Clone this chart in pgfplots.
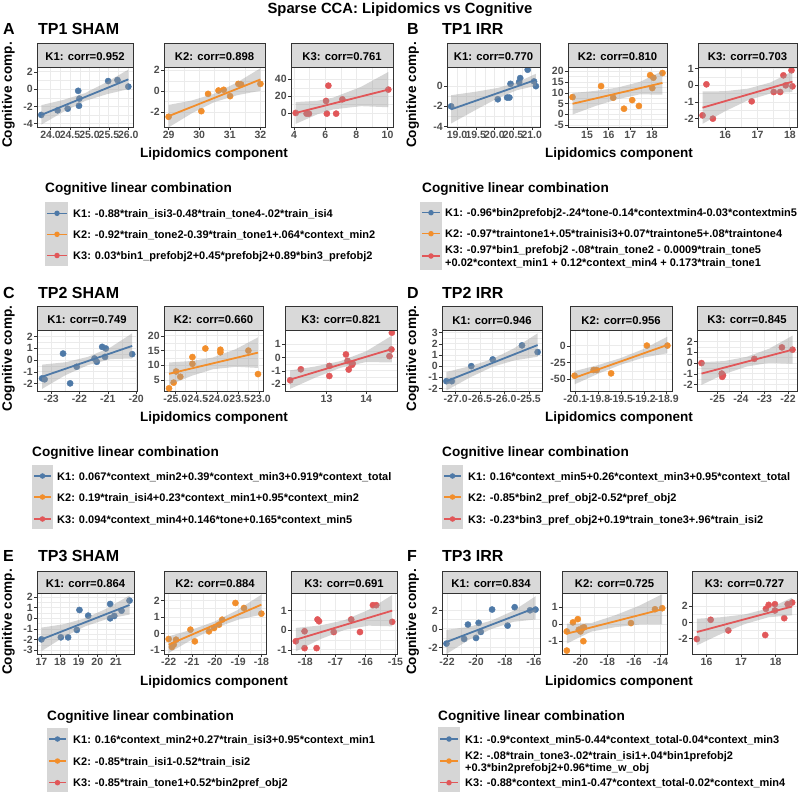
\documentclass[border=0pt]{standalone}
\usepackage{fontspec}
\setmainfont{Liberation Sans}
\usepackage{pgfplots}
\pgfplotsset{compat=1.18}
\definecolor{cA}{HTML}{4E79A7}
\definecolor{cB}{HTML}{F28E2B}
\definecolor{cC}{HTML}{E15759}
\definecolor{stripbg}{HTML}{D9D9D9}
\definecolor{keybg}{HTML}{D6D6D6}
\definecolor{frame}{HTML}{333333}
\definecolor{gridc}{HTML}{EBEBEB}
\definecolor{ticktext}{HTML}{4D4D4D}
\pgfplotsset{
 fac/.style={scale only axis, anchor=north west, clip mode=individual,
  axis line style={draw=frame, line width=0.5pt},
  grid=both, major grid style={draw=gridc, line width=0.9pt}, minor grid style={draw=gridc, line width=0.45pt},
  minor tick num=1, minor tick length=0pt, major tick length=2.7pt, tick align=outside, tick pos=left,
  tick style={draw=frame, line width=0.5pt},
  ticklabel style={font=\bfseries\fontsize{10.5}{11}\selectfont, text=ticktext},
  xticklabel style={inner sep=1.5pt}, yticklabel style={inner sep=1.5pt},
  scaled ticks=false},
 pts/.style={only marks, mark=*, mark size=3.1pt, color=#1},
 band/.style={fill=black!40, fill opacity=0.4, draw=none},
 fit/.style={color=#1, line width=1.8pt, no marks},
 keyax/.style={hide axis, scale only axis, anchor=north west, xmin=0, xmax=22, clip=false},
 key/.style={color=#1, line width=1.4pt, mark=*, mark size=2pt, mark indices={2}},
}
\newcommand{\strip}[2]{%
 \draw[fill=stripbg, draw=frame, line width=0.5pt] (rel axis cs:0,1) rectangle ([yshift=#2]rel axis cs:1,1);
 \node[font=\bfseries\fontsize{11.3}{12}\selectfont, inner sep=0, anchor=base] at ([yshift=6pt]rel axis cs:0.5,1) {#1};}
\newcommand{\ltitle}[2]{\node[anchor=base west, inner sep=0, font=\bfseries\fontsize{13.6}{15}\selectfont] at (#1pt,-#2pt) {Cognitive linear combination};}
\newcommand{\lentry}[3]{\node[anchor=base west, inner sep=0, font=\bfseries\fontsize{11}{12}\selectfont] at (#1pt,-#2pt) {#3};}
\newcommand{\tagtxt}[3]{\node[anchor=base west, inner sep=0, font=\bfseries\fontsize{16}{18}\selectfont] at (#1pt,-#2pt) {#3};}
\newcommand{\ytitle}[2]{\node[rotate=90, anchor=base, inner sep=0, font=\bfseries\fontsize{13.6}{15}\selectfont] at (#1pt,-#2pt) {Cognitive comp.};}
\newcommand{\xtitle}[2]{\node[anchor=base, inner sep=0, font=\bfseries\fontsize{13.5}{15}\selectfont] at (#1pt,-#2pt) {Lipidomics component};}
\begin{document}
\begin{tikzpicture}
\useasboundingbox (0,0) rectangle (800pt,-794pt);
\node[anchor=base, inner sep=0, font=\bfseries\fontsize{14.8}{16}\selectfont] at (400pt,-14pt) {Sparse CCA: Lipidomics vs Cognitive};

% ================= ROW 1 =================
\tagtxt{3}{35}{A}\tagtxt{38}{35}{TP1 SHAM}
\tagtxt{407}{35}{B}\tagtxt{442}{35}{TP1 IRR}
\ytitle{12}{95}\ytitle{416}{95}
\xtitle{214}{158}\xtitle{619}{158}

% A K1
\begin{axis}[fac, at={(37pt,-67pt)}, width=96pt, height=60pt, xmin=23.65, xmax=26.12, ymin=-4.38, ymax=2.57,
 xtick={24,24.5,25,25.5,26}, xticklabels={24.0,24.5,25.0,25.5,26.0}, ytick={-4,-2,0,2}, yticklabels={-4,-2,0,2}]
\addplot[pts=cA] coordinates {(23.76,-2.98) (24.18,-2.45) (24.44,-2.26) (24.71,-0.19) (24.74,-1.09) (24.73,-1.92) (25.48,0.94) (25.72,1.06) (26.0,0.30)};
\addplot[band] coordinates {(23.76,-1.85) (24.32,-1.25) (24.88,-0.47) (25.44,0.81) (26.0,2.27) (26.0,0.01) (25.44,-0.59) (24.88,-1.37) (24.32,-2.65) (23.76,-4.11)};
\addplot[fit=cA] coordinates {(23.76,-2.98) (26.0,1.14)};
\strip{K1: corr=0.952}{24pt}
\end{axis}
% A K2
\begin{axis}[fac, at={(164pt,-67pt)}, width=101pt, height=60pt, xmin=28.85, xmax=32.15, ymin=-3.44, ymax=2.32,
 xtick={29,30,31,32}, xticklabels={29,30,31,32}, ytick={-2,0,2}, yticklabels={-2,0,2}]
\addplot[pts=cB] coordinates {(29.0,-2.46) (30.07,-1.92) (30.29,-0.26) (30.63,0.06) (30.8,0.13) (31.01,-0.48) (31.28,0.70) (31.37,0.64) (32.0,0.70)};
\addplot[band] coordinates {(29.0,-1.32) (29.75,-0.90) (30.5,-0.24) (31.25,0.86) (32.0,2.20) (32.0,0.04) (31.25,-0.38) (30.5,-1.04) (29.75,-2.14) (29.0,-3.48)};
\addplot[fit=cB] coordinates {(29.0,-2.4) (32.0,1.12)};
\strip{K2: corr=0.898}{24pt}
\end{axis}
% A K3
\begin{axis}[fac, at={(291pt,-67pt)}, width=102pt, height=60pt, xmin=3.8, xmax=10.35, ymin=-16.7, ymax=54.7,
 xtick={4,6,8,10}, xticklabels={4,6,8,10}, ytick={0,20,40}, yticklabels={0,20,40}]
\addplot[pts=cC] coordinates {(4.1,0) (4.8,-0.8) (4.95,-0.8) (6.05,14.3) (6.2,32.5) (6.1,-0.8) (6.7,-0.8) (7.1,16.2) (10.05,27.8)};
\addplot[band] coordinates {(4.1,13) (5.5,14.5) (6.5,18.2) (8.3,31.1) (10.05,48.8) (10.05,6.8) (8.3,8.1) (6.5,4.2) (5.5,-1.5) (4.1,-13)};
\addplot[fit=cC] coordinates {(4.1,0) (10.05,27.8)};
\strip{K3: corr=0.761}{24pt}
\end{axis}
% B K1
\begin{axis}[fac, at={(447pt,-67pt)}, width=93pt, height=60pt, xmin=18.73, xmax=21.22, ymin=-4.05, ymax=1.9,
 xtick={19,19.5,20,20.5,21}, xticklabels={19.0,19.5,20.0,20.5,21.0}, ytick={-4,-2,0}, yticklabels={-4,-2,0}]
\addplot[pts=cA] coordinates {(18.84,-2.0) (20.09,-1.3) (20.34,-1.13) (20.4,-1.13) (20.43,0.23) (20.66,0.4) (20.69,0.8) (20.89,1.63) (21.06,0.47) (21.11,0.0)};
\addplot[band] coordinates {(18.84,-0.90) (19.5,-0.55) (20.1,-0.17) (20.6,0.36) (21.11,1.23) (21.11,0.03) (20.6,-0.40) (20.1,-1.17) (19.5,-2.35) (18.84,-3.70)};
\addplot[fit=cA] coordinates {(18.84,-2.30) (21.11,0.63)};
\strip{K1: corr=0.770}{24pt}
\end{axis}
% B K2
\begin{axis}[fac, at={(568pt,-67pt)}, width=99pt, height=60pt, xmin=14.12, xmax=18.7, ymin=-5.9, ymax=22,
 xtick={15,16,17,18}, xticklabels={15,16,17,18}, ytick={-5,0,5,10,15,20}, yticklabels={-5,0,5,10,15,20}]
\addplot[pts=cB] coordinates {(14.33,8.0) (15.65,13.1) (16.21,7.7) (16.71,2.6) (17.09,6.6) (17.4,3.9) (17.92,18.2) (18.02,12.2) (18.07,17.0) (18.49,19.2)};
\addplot[band] coordinates {(14.33,9.9) (15.4,10.9) (16.4,12.4) (17.45,15.1) (18.49,20.1) (18.49,9.1) (17.45,9.3) (16.4,7.0) (15.4,3.9) (14.33,-0.1)};
\addplot[fit=cB] coordinates {(14.33,4.9) (18.49,14.6)};
\strip{K2: corr=0.810}{24pt}
\end{axis}
% B K3
\begin{axis}[fac, at={(698pt,-67pt)}, width=99pt, height=60pt, xmin=15.16, xmax=18.22, ymin=-2.5, ymax=1.1,
 xtick={16,17,18}, xticklabels={16,17,18}, ytick={-2,-1,0,1}, yticklabels={-2,-1,0,1}]
\addplot[pts=cC] coordinates {(15.3,-1.8) (15.42,0.06) (15.62,-2.0) (16.82,-0.96) (17.5,-0.4) (17.7,-0.4) (17.8,0.6) (17.87,0.0) (18.05,0.9) (18.08,-0.06)};
\addplot[band] coordinates {(15.3,-0.37) (16.0,-0.35) (16.7,-0.20) (17.4,0.17) (18.08,0.84) (18.08,-0.40) (17.4,-0.49) (16.7,-0.90) (16.0,-1.55) (15.3,-2.31)};
\addplot[fit=cC] coordinates {(15.3,-1.34) (18.08,0.22)};
\strip{K3: corr=0.703}{24pt}
\end{axis}

% legends row 1
\ltitle{45}{192.5}
\fill[keybg] (45pt,-202pt) rectangle (68pt,-266pt);
\begin{axis}[keyax, at={(45pt,-202pt)}, width=23pt, height=64pt, ymin=-266, ymax=-202]
\addplot[key=cA] coordinates {(2,-213.3) (11.5,-213.3) (21,-213.3)};
\addplot[key=cB] coordinates {(2,-234.3) (11.5,-234.3) (21,-234.3)};
\addplot[key=cC] coordinates {(2,-255.5) (11.5,-255.5) (21,-255.5)};
\end{axis}
\lentry{73}{217.3}{K1: -0.88*train\_isi3-0.48*train\_tone4-.02*train\_isi4}
\lentry{73}{238.3}{K2: -0.92*train\_tone2-0.39*train\_tone1+.064*context\_min2}
\lentry{73}{259.5}{K3: 0.03*bin1\_prefobj2+0.45*prefobj2+0.89*bin3\_prefobj2}

\ltitle{422}{192.5}
\fill[keybg] (420pt,-202pt) rectangle (442pt,-270pt);
\begin{axis}[keyax, at={(420pt,-202pt)}, width=22pt, height=68pt, ymin=-270, ymax=-202]
\addplot[key=cA] coordinates {(2,-212.7) (11,-212.7) (20,-212.7)};
\addplot[key=cB] coordinates {(2,-233.7) (11,-233.7) (20,-233.7)};
\addplot[key=cC] coordinates {(2,-256) (11,-256) (20,-256)};
\end{axis}
\lentry{445}{216.7}{K1: -0.96*bin2prefobj2-.24*tone-0.14*contextmin4-0.03*contextmin5}
\lentry{445}{237.7}{K2: -0.97*traintone1+.05*trainisi3+0.07*traintone5+.08*traintone4}
\lentry{445}{254}{K3: -0.97*bin1\_prefobj2 -.08*train\_tone2 - 0.0009*train\_tone5}
\lentry{445}{266}{+0.02*context\_min1 + 0.12*context\_min4 + 0.173*train\_tone1}

% ================= ROW 2 =================
\tagtxt{3}{298.3}{C}\tagtxt{38}{298.3}{TP2 SHAM}
\tagtxt{407}{298.3}{D}\tagtxt{442}{298.3}{TP2 IRR}
\ytitle{12}{358.5}\ytitle{416}{358.5}
\xtitle{214}{421.7}\xtitle{619}{421.7}

% C K1
\begin{axis}[fac, at={(37pt,-330pt)}, width=100pt, height=61pt, xmin=-23.5, xmax=-19.97, ymin=-2.62, ymax=2.56,
 xtick={-23,-22,-21,-20}, xticklabels={-23,-22,-21,-20}, ytick={-2,-1,0,1,2}, yticklabels={-2,-1,0,1,2}]
\addplot[pts=cA] coordinates {(-23.32,-1.55) (-23.23,-1.63) (-22.58,0.56) (-22.33,-1.97) (-22.1,-0.56) (-21.47,0.14) (-21.39,-0.14) (-21.2,1.13) (-21.1,0.28) (-21.07,0.99) (-20.14,0.51)};
\addplot[band] coordinates {(-23.32,-0.38) (-22.5,-0.18) (-21.7,0.28) (-20.9,1.09) (-20.14,2.28) (-20.14,0.14) (-20.9,0.09) (-21.7,-0.42) (-22.5,-1.28) (-23.32,-2.44)};
\addplot[fit=cA] coordinates {(-23.32,-1.41) (-20.14,1.21)};
\strip{K1: corr=0.749}{24pt}
\end{axis}
% C K2
\begin{axis}[fac, at={(164pt,-330pt)}, width=99pt, height=61pt, xmin=-25.27, xmax=-22.9, ymin=1.25, ymax=22,
 xtick={-25,-24.5,-24,-23.5,-23}, xticklabels={-25.0,-24.5,-24.0,-23.5,-23.0}, ytick={5,10,15,20}, yticklabels={5,10,15,20}]
\addplot[pts=cB] coordinates {(-25.15,2.16) (-25.04,4.1) (-24.98,7.9) (-24.88,6.1) (-24.59,10.5) (-24.59,12.8) (-24.28,15.7) (-23.92,15.3) (-23.92,14.4) (-23.25,15.0) (-23.02,7.0)};
\addplot[band] coordinates {(-25.15,10.95) (-24.6,11.46) (-24.1,12.65) (-23.55,15.5) (-23.02,19.5) (-23.02,9.1) (-23.55,9.5) (-24.1,8.65) (-24.6,6.46) (-25.15,3.25)};
\addplot[fit=cB] coordinates {(-25.15,7.1) (-23.02,14.3)};
\strip{K2: corr=0.660}{24pt}
\end{axis}
% C K3
\begin{axis}[fac, at={(285pt,-330pt)}, width=112pt, height=61pt, xmin=11.95, xmax=14.78, ymin=-2.5, ymax=2.05,
 xtick={13,14}, xticklabels={13,14}, ytick={-2,-1,0,1}, yticklabels={-2,-1,0,1}]
\addplot[pts=cC] coordinates {(12.08,-1.7) (12.35,-0.88) (13.07,-0.63) (13.07,-1.38) (13.49,0.23) (13.53,-0.25) (13.56,-0.9) (13.64,-0.55) (13.66,-0.45) (14.59,0.1) (14.64,0.6) (14.65,1.85)};
\addplot[band] coordinates {(12.08,-0.96) (12.7,-0.68) (13.35,-0.27) (14.0,0.46) (14.65,1.63) (14.65,-0.37) (14.0,-0.34) (13.35,-0.77) (12.7,-1.52) (12.08,-2.34)};
\addplot[fit=cC] coordinates {(12.08,-1.65) (14.65,0.63)};
\strip{K3: corr=0.821}{24pt}
\end{axis}
% D K1
\begin{axis}[fac, at={(442pt,-330pt)}, width=100pt, height=61pt, xmin=-27.28, xmax=-25.23, ymin=-2.23, ymax=3.24,
 xtick={-27,-26.5,-26,-25.5}, xticklabels={-27.0,-26.5,-26.0,-25.5}, ytick={-2,-1,0,1,2,3}, yticklabels={-2,-1,0,1,2,3}]
\addplot[pts=cA] coordinates {(-27.19,-1.35) (-27.08,-1.35) (-26.68,0.0) (-26.24,0.6) (-25.64,1.86) (-25.32,1.26)};
\addplot[band] coordinates {(-27.19,-0.52) (-26.7,0.0) (-26.25,0.63) (-25.8,1.61) (-25.32,2.94) (-25.32,0.84) (-25.8,0.51) (-26.25,-0.07) (-26.7,-1.0) (-27.19,-2.18)};
\addplot[fit=cA] coordinates {(-27.19,-1.35) (-25.32,1.89)};
\strip{K1: corr=0.946}{24pt}
\end{axis}
% D K2
\begin{axis}[fac, at={(570pt,-330pt)}, width=102pt, height=61pt, xmin=-20.17, xmax=-18.83, ymin=-68, ymax=24,
 xtick={-20.1,-19.8,-19.5,-19.2,-18.9}, xticklabels={-20.1,-19.8,-19.5,-19.2,-18.9}, ytick={-50,-25,0}, yticklabels={-50,-25,0}]
\addplot[pts=cB] coordinates {(-20.11,-45) (-19.86,-36.4) (-19.82,-36.4) (-19.63,-41.4) (-19.16,0.5) (-18.89,0.5)};
\addplot[band] coordinates {(-20.11,-38) (-19.8,-28.9) (-19.5,-18.2) (-19.2,-4.5) (-18.89,14) (-18.89,-11) (-19.2,-17.5) (-19.5,-28.2) (-19.8,-41.9) (-20.11,-58)};
\addplot[fit=cB] coordinates {(-20.11,-48) (-18.89,1.5)};
\strip{K2: corr=0.956}{24pt}
\end{axis}
% D K3
\begin{axis}[fac, at={(697pt,-330pt)}, width=100pt, height=61pt, xmin=-25.86, xmax=-21.62, ymin=-2.58, ymax=3.06,
 xtick={-25,-24,-23,-22}, xticklabels={-25,-24,-23,-22}, ytick={-2,-1,0,1,2}, yticklabels={-2,-1,0,1,2}]
\addplot[pts=cC] coordinates {(-25.67,0.0) (-24.81,-0.97) (-24.79,-1.27) (-24.76,-1.12) (-23.43,0.39) (-22.26,1.45) (-21.81,1.24)};
\addplot[band] coordinates {(-25.67,0.08) (-24.7,0.19) (-23.75,0.58) (-22.8,1.33) (-21.81,2.54) (-21.81,-0.06) (-22.8,0.03) (-23.75,-0.32) (-24.7,-1.01) (-25.67,-2.02)};
\addplot[fit=cC] coordinates {(-25.67,-0.97) (-21.81,1.24)};
\strip{K3: corr=0.845}{24pt}
\end{axis}

% legends row 2
\ltitle{32}{456}
\fill[keybg] (32pt,-465pt) rectangle (53pt,-529pt);
\begin{axis}[keyax, at={(32pt,-465pt)}, width=21pt, height=64pt, xmax=21, ymin=-529, ymax=-465]
\addplot[key=cA] coordinates {(2,-476) (10.5,-476) (19,-476)};
\addplot[key=cB] coordinates {(2,-497) (10.5,-497) (19,-497)};
\addplot[key=cC] coordinates {(2,-519) (10.5,-519) (19,-519)};
\end{axis}
\lentry{57}{480}{K1: 0.067*context\_min2+0.39*context\_min3+0.919*context\_total}
\lentry{57}{501}{K2: 0.19*train\_isi4+0.23*context\_min1+0.95*context\_min2}
\lentry{57}{523}{K3: 0.094*context\_min4+0.146*tone+0.165*context\_min5}

\ltitle{442}{456}
\fill[keybg] (442pt,-465pt) rectangle (463pt,-529pt);
\begin{axis}[keyax, at={(442pt,-465pt)}, width=21pt, height=64pt, xmax=21, ymin=-529, ymax=-465]
\addplot[key=cA] coordinates {(2,-476) (10.5,-476) (19,-476)};
\addplot[key=cB] coordinates {(2,-497) (10.5,-497) (19,-497)};
\addplot[key=cC] coordinates {(2,-519) (10.5,-519) (19,-519)};
\end{axis}
\lentry{468}{480}{K1: 0.16*context\_min5+0.26*context\_min3+0.95*context\_total}
\lentry{468}{501}{K2: -0.85*bin2\_pref\_obj2-0.52*pref\_obj2}
\lentry{468}{523}{K3: -0.23*bin3\_pref\_obj2+0.19*train\_tone3+.96*train\_isi2}

% ================= ROW 3 =================
\tagtxt{3}{561.7}{E}\tagtxt{38}{561.7}{TP3 SHAM}
\tagtxt{407}{561.7}{F}\tagtxt{442}{561.7}{TP3 IRR}
\ytitle{12}{622}\ytitle{416}{622}
\xtitle{214}{685}\xtitle{619}{685}

% E K1
\begin{axis}[fac, at={(37pt,-593pt)}, width=97pt, height=61pt, xmin=16.76, xmax=21.97, ymin=-3.34, ymax=2.37,
 xtick={17,18,19,20,21}, xticklabels={17,18,19,20,21}, ytick={-3,-2,-1,0,1,2}, yticklabels={-3,-2,-1,0,1,2}]
\addplot[pts=cA] coordinates {(17.0,-1.97) (18.04,-1.78) (18.43,-1.78) (18.9,-1.09) (19.04,0.78) (19.51,0.25) (20.69,1.34) (20.69,0.0) (20.91,0.22) (21.3,0.72) (21.73,1.66)};
\addplot[band] coordinates {(17.0,-0.87) (18.2,-0.55) (19.35,0.01) (20.55,0.95) (21.73,2.15) (21.73,0.35) (20.55,-0.05) (19.35,-0.75) (18.2,-1.75) (17.0,-3.07)};
\addplot[fit=cA] coordinates {(17.0,-1.97) (21.73,1.25)};
\strip{K1: corr=0.864}{22pt}
\end{axis}
% E K2
\begin{axis}[fac, at={(164pt,-593pt)}, width=102pt, height=61pt, xmin=-22.2, xmax=-17.8, ymin=-1.22, ymax=2.44,
 xtick={-22,-21,-20,-19,-18}, xticklabels={-22,-21,-20,-19,-18}, ytick={-1,0,1,2}, yticklabels={-1,0,1,2}]
\addplot[pts=cB] coordinates {(-22.0,-0.32) (-21.86,-0.8) (-21.78,-0.66) (-21.68,-0.36) (-21.06,0.24) (-20.87,-0.46) (-20.26,0.14) (-20.04,0.34) (-19.83,0.54) (-19.69,0.84) (-19.12,1.84) (-18.75,1.54) (-18.0,1.2)};
\addplot[band] coordinates {(-22,-0.16) (-21,0.24) (-20,0.74) (-19,1.44) (-18,2.34) (-18,1.14) (-19,0.84) (-20,0.34) (-21,-0.36) (-22,-1.16)};
\addplot[fit=cB] coordinates {(-22.0,-0.66) (-18.0,1.74)};
\strip{K2: corr=0.884}{22pt}
\end{axis}
% E K3
\begin{axis}[fac, at={(291pt,-593pt)}, width=106pt, height=61pt, xmin=-18.47, xmax=-14.95, ymin=-1.21, ymax=1.9,
 xtick={-18,-17,-16,-15}, xticklabels={-18,-17,-16,-15}, ytick={-1,0,1}, yticklabels={-1,0,1}]
\addplot[pts=cC] coordinates {(-18.31,-0.56) (-18.02,-0.05) (-18.02,-0.91) (-17.62,-0.91) (-17.59,0.55) (-17.54,0.46) (-17.05,-0.09) (-16.47,0.55) (-16.18,-0.09) (-15.75,1.28) (-15.64,1.28) (-15.11,0.43)};
\addplot[band] coordinates {(-18.31,0.12) (-17.5,0.245) (-16.7,0.515) (-15.9,1.035) (-15.11,1.8) (-15.11,0.2) (-15.9,0.235) (-16.7,0.015) (-17.5,-0.455) (-18.31,-1.08)};
\addplot[fit=cC] coordinates {(-18.31,-0.48) (-15.11,1.0)};
\strip{K3: corr=0.691}{22pt}
\end{axis}
% F K1
\begin{axis}[fac, at={(442pt,-593pt)}, width=98pt, height=61pt, xmin=-22.35, xmax=-15.58, ymin=-2.7, ymax=3.87,
 xtick={-22,-20,-18,-16}, xticklabels={-22,-20,-18,-16}, ytick={-2,0,2}, yticklabels={-2,0,2}]
\addplot[pts=cA] coordinates {(-22.04,-1.58) (-20.82,-1.08) (-20.56,0.47) (-20.0,-0.97) (-19.82,0.65) (-19.67,-0.32) (-18.89,2.09) (-17.82,0.36) (-17.33,2.34) (-16.27,2.01) (-15.89,2.09)};
\addplot[band] coordinates {(-22.04,-0.1) (-20.5,0.22) (-18.95,0.89) (-17.4,1.97) (-15.89,3.52) (-15.89,1.02) (-17.4,0.77) (-18.95,-0.01) (-20.5,-1.18) (-22.04,-2.7)};
\addplot[fit=cA] coordinates {(-22.04,-1.4) (-15.89,2.27)};
\strip{K1: corr=0.834}{22pt}
\end{axis}
% F K2
\begin{axis}[fac, at={(562pt,-593pt)}, width=105pt, height=61pt, xmin=-21.39, xmax=-13.53, ymin=-1.75, ymax=1.82,
 xtick={-20,-18,-16,-14}, xticklabels={-20,-18,-16,-14}, ytick={-1,0,1}, yticklabels={-1,0,1}]
\addplot[pts=cB] coordinates {(-21.03,-1.55) (-21.03,-0.43) (-20.57,0.1) (-20.21,0.29) (-20.13,-0.33) (-20.0,-0.43) (-19.87,-0.23) (-19.74,-0.19) (-19.79,-1.0) (-16.23,0.06) (-14.43,0.87) (-13.89,0.93)};
\addplot[band] coordinates {(-21.03,0.02) (-19.2,0.06) (-17.4,0.52) (-15.6,1.08) (-13.89,1.75) (-13.89,-0.01) (-15.6,-0.02) (-17.4,-0.18) (-19.2,-0.44) (-21.03,-1.14)};
\addplot[fit=cB] coordinates {(-21.03,-0.56) (-13.89,0.87)};
\strip{K2: corr=0.725}{22pt}
\end{axis}
% F K3
\begin{axis}[fac, at={(692pt,-593pt)}, width=105pt, height=61pt, xmin=15.58, xmax=18.62, ymin=-3.91, ymax=3.65,
 xtick={16,17,18}, xticklabels={16,17,18}, ytick={-2,0,2}, yticklabels={-2,0,2}]
\addplot[pts=cC] coordinates {(15.72,-2.06) (16.12,0.33) (16.63,-0.99) (17.7,-1.56) (17.72,1.69) (17.8,2.18) (17.98,2.26) (17.98,1.48) (18.25,0.53) (18.35,2.26) (18.48,2.47)};
\addplot[band] coordinates {(15.72,0.46) (16.4,0.64) (17.1,0.99) (17.8,1.75) (18.48,3.08) (18.48,0.88) (17.8,0.65) (17.1,-0.21) (16.4,-1.46) (15.72,-2.84)};
\addplot[fit=cC] coordinates {(15.72,-1.19) (18.48,1.98)};
\strip{K3: corr=0.727}{22pt}
\end{axis}

% legends row 3
\ltitle{47}{720}
\fill[keybg] (47pt,-728pt) rectangle (68pt,-792pt);
\begin{axis}[keyax, at={(47pt,-728pt)}, width=21pt, height=64pt, xmax=21, ymin=-792, ymax=-728]
\addplot[key=cA] coordinates {(2,-739) (10.5,-739) (19,-739)};
\addplot[key=cB] coordinates {(2,-761) (10.5,-761) (19,-761)};
\addplot[key=cC] coordinates {(2,-782.7) (10.5,-782.7) (19,-782.7)};
\end{axis}
\lentry{73}{743}{K1: 0.16*context\_min2+0.27*train\_isi3+0.95*context\_min1}
\lentry{73}{765}{K2: -0.85*train\_isi1-0.52*train\_isi2}
\lentry{73}{786.7}{K3: -0.85*train\_tone1+0.52*bin2pref\_obj2}

\ltitle{438}{720}
\fill[keybg] (438pt,-727pt) rectangle (460pt,-792pt);
\begin{axis}[keyax, at={(438pt,-727pt)}, width=22pt, height=65pt, ymin=-792, ymax=-727]
\addplot[key=cA] coordinates {(2,-739) (11,-739) (20,-739)};
\addplot[key=cB] coordinates {(2,-761) (11,-761) (20,-761)};
\addplot[key=cC] coordinates {(2,-782.7) (11,-782.7) (20,-782.7)};
\end{axis}
\lentry{465}{743}{K1: -0.9*context\_min5-0.44*context\_total-0.04*context\_min3}
\lentry{465}{759}{K2: -.08*train\_tone3-.02*train\_isi1+.04*bin1prefobj2}
\lentry{465}{771}{+0.3*bin2prefobj2+0.96*time\_w\_obj}
\lentry{465}{786.7}{K3: -0.88*context\_min1-0.47*context\_total-0.02*context\_min4}
\end{tikzpicture}
\end{document}
